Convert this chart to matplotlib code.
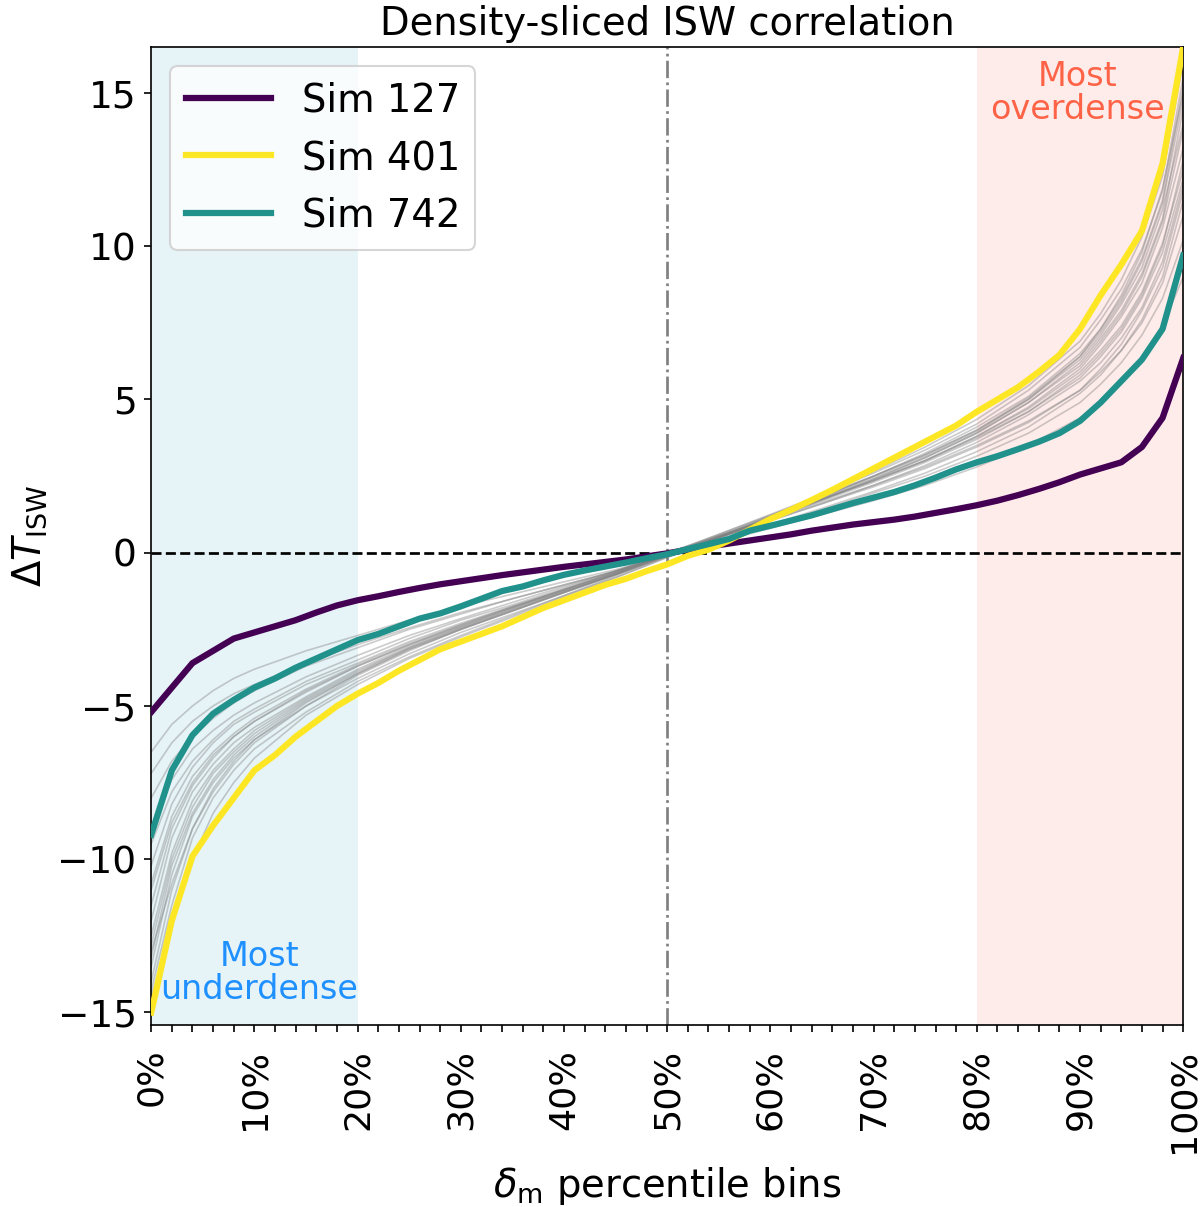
"""
Density-sliced ISW correlation: Delta T_ISW per delta_m percentile bin
for three highlighted simulations on top of the other sims in grey.
"""

import matplotlib
matplotlib.use("Agg")
import matplotlib.pyplot as plt
import numpy as np

# percentile bin positions (%) for the highlighted sims
PCT = list(range(0, 101, 2))

SIM_127 = [-5.2, -4.4, -3.6, -3.2, -2.8, -2.6, -2.4, -2.2, -1.95, -1.72,
           -1.55, -1.42, -1.28, -1.15, -1.03, -0.93, -0.83, -0.73, -0.64, -0.55,
           -0.46, -0.38, -0.30, -0.22, -0.12, -0.02, 0.10, 0.20, 0.30, 0.40,
           0.50, 0.60, 0.72, 0.82, 0.92, 1.00, 1.08, 1.18, 1.30, 1.42,
           1.55, 1.70, 1.88, 2.08, 2.30, 2.55, 2.75, 2.95, 3.45, 4.40, 6.35]

SIM_401 = [-15.0, -12.0, -9.9, -8.9, -8.0, -7.1, -6.6, -6.0, -5.5, -5.0,
           -4.6, -4.25, -3.85, -3.5, -3.15, -2.9, -2.65, -2.4, -2.1, -1.8,
           -1.55, -1.3, -1.05, -0.85, -0.6, -0.38, -0.1, 0.1, 0.4, 0.75,
           1.1, 1.4, 1.72, 2.05, 2.4, 2.75, 3.1, 3.45, 3.8, 4.15,
           4.6, 5.0, 5.4, 5.9, 6.45, 7.3, 8.4, 9.4, 10.5, 12.7, 16.5]

SIM_742 = [-9.2, -7.1, -5.95, -5.25, -4.8, -4.4, -4.1, -3.75, -3.45, -3.15,
           -2.85, -2.65, -2.4, -2.15, -1.98, -1.75, -1.5, -1.25, -1.1, -0.9,
           -0.72, -0.58, -0.45, -0.32, -0.18, -0.05, 0.12, 0.28, 0.45, 0.72,
           0.88, 1.05, 1.22, 1.42, 1.62, 1.8, 1.98, 2.2, 2.45, 2.72,
           2.95, 3.15, 3.38, 3.62, 3.9, 4.3, 4.9, 5.6, 6.3, 7.3, 9.7]

# the remaining sims (grey), read on a coarser grid
GREY_PCT = [0, 2, 4, 6, 8, 10, 15, 20, 25, 30, 35, 40, 45, 50, 55, 60, 65,
            70, 75, 80, 85, 90, 92, 94, 96, 98, 100]
GREY_SIMS = [
    [-13.5, -10.5, -8.6, -7.5, -6.7, -6.1, -5.0, -4.1, -3.3, -2.6, -2.0, -1.4, -0.75, -0.1, 0.5, 1.1, 1.75, 2.4, 3.1, 3.9, 4.9, 6.2, 7.0, 7.9, 9.1, 10.9, 14.5],
    [-11.0, -8.8, -7.5, -6.6, -6.0, -5.5, -4.5, -3.7, -3.0, -2.4, -1.8, -1.2, -0.65, -0.05, 0.5, 1.05, 1.6, 2.2, 2.85, 3.6, 4.5, 5.6, 6.2, 7.0, 8.0, 9.5, 12.0],
    [-14.3, -11.5, -9.3, -8.0, -7.1, -6.4, -5.2, -4.2, -3.4, -2.7, -2.05, -1.4, -0.8, -0.15, 0.45, 1.1, 1.8, 2.5, 3.25, 4.1, 5.1, 6.5, 7.3, 8.3, 9.6, 11.5, 15.2],
    [-9.5, -7.8, -6.8, -6.1, -5.5, -5.1, -4.2, -3.5, -2.8, -2.2, -1.7, -1.15, -0.6, 0.0, 0.55, 1.1, 1.65, 2.2, 2.8, 3.5, 4.3, 5.3, 5.9, 6.6, 7.5, 8.8, 11.0],
    [-12.8, -10.0, -8.3, -7.2, -6.5, -5.9, -4.8, -3.9, -3.1, -2.45, -1.85, -1.25, -0.7, -0.1, 0.5, 1.15, 1.8, 2.45, 3.15, 3.95, 5.0, 6.3, 7.1, 8.1, 9.3, 11.2, 14.0],
    [-6.5, -5.6, -5.0, -4.5, -4.1, -3.8, -3.2, -2.7, -2.2, -1.75, -1.35, -0.95, -0.55, -0.1, 0.35, 0.8, 1.25, 1.7, 2.2, 2.8, 3.5, 4.4, 4.9, 5.5, 6.3, 7.4, 9.0],
    [-13.0, -10.8, -9.0, -7.8, -6.9, -6.2, -5.0, -4.0, -3.2, -2.5, -1.9, -1.3, -0.7, -0.05, 0.6, 1.25, 1.9, 2.6, 3.35, 4.2, 5.3, 6.7, 7.6, 8.6, 9.9, 11.8, 15.5],
    [-10.2, -8.2, -7.0, -6.2, -5.6, -5.2, -4.3, -3.6, -2.9, -2.3, -1.75, -1.2, -0.65, -0.05, 0.55, 1.15, 1.75, 2.35, 3.0, 3.75, 4.6, 5.8, 6.5, 7.3, 8.4, 10.0, 12.8],
    [-14.0, -11.0, -9.0, -7.7, -6.8, -6.1, -4.9, -3.95, -3.15, -2.5, -1.9, -1.3, -0.72, -0.12, 0.48, 1.1, 1.75, 2.4, 3.1, 3.9, 4.9, 6.1, 6.9, 7.8, 9.0, 10.8, 13.8],
    [-8.0, -6.8, -6.0, -5.4, -4.9, -4.5, -3.7, -3.1, -2.5, -2.0, -1.5, -1.05, -0.6, -0.1, 0.4, 0.9, 1.4, 1.95, 2.5, 3.15, 3.9, 4.9, 5.5, 6.2, 7.1, 8.3, 10.2],
    [-12.0, -9.3, -7.8, -6.9, -6.2, -5.7, -4.7, -3.8, -3.05, -2.4, -1.8, -1.25, -0.68, -0.08, 0.52, 1.12, 1.72, 2.35, 3.0, 3.8, 4.75, 6.0, 6.8, 7.7, 8.8, 10.6, 13.2],
    [-14.5, -12.2, -10.0, -8.5, -7.5, -6.7, -5.3, -4.3, -3.45, -2.75, -2.1, -1.45, -0.82, -0.15, 0.5, 1.2, 1.9, 2.65, 3.45, 4.35, 5.45, 6.9, 7.8, 8.9, 10.3, 12.3, 16.0],
    [-10.8, -8.6, -7.3, -6.5, -5.9, -5.4, -4.45, -3.65, -2.95, -2.35, -1.78, -1.22, -0.66, -0.06, 0.54, 1.14, 1.74, 2.36, 3.02, 3.8, 4.7, 5.9, 6.6, 7.4, 8.5, 10.1, 12.5],
    [-11.5, -9.0, -7.6, -6.7, -6.0, -5.5, -4.55, -3.7, -3.0, -2.35, -1.75, -1.2, -0.62, -0.02, 0.6, 1.22, 1.85, 2.5, 3.2, 4.0, 5.0, 6.4, 7.2, 8.2, 9.5, 11.4, 14.8],
    [-13.2, -10.2, -8.5, -7.4, -6.6, -6.0, -4.85, -3.95, -3.15, -2.5, -1.9, -1.3, -0.72, -0.1, 0.5, 1.1, 1.7, 2.3, 2.95, 3.7, 4.6, 5.7, 6.4, 7.2, 8.3, 9.8, 12.2],
    [-7.2, -6.2, -5.5, -5.0, -4.6, -4.3, -3.6, -3.0, -2.45, -1.95, -1.5, -1.05, -0.6, -0.1, 0.4, 0.92, 1.45, 2.0, 2.6, 3.3, 4.1, 5.2, 5.8, 6.6, 7.6, 9.0, 11.5],
    [-12.5, -9.8, -8.1, -7.1, -6.4, -5.8, -4.75, -3.85, -3.1, -2.45, -1.85, -1.28, -0.7, -0.08, 0.55, 1.2, 1.85, 2.5, 3.2, 4.0, 5.05, 6.4, 7.3, 8.4, 9.8, 11.9, 15.0],
    [-9.0, -7.4, -6.4, -5.8, -5.3, -4.9, -4.05, -3.35, -2.7, -2.15, -1.62, -1.1, -0.6, -0.05, 0.5, 1.05, 1.6, 2.15, 2.75, 3.45, 4.25, 5.3, 6.0, 6.8, 7.9, 9.3, 11.8],
]

HIGHLIGHT = [("Sim 127", SIM_127), ("Sim 401", SIM_401), ("Sim 742", SIM_742)]
COLORS = ["#440154", "#fde725", "#21918c"]  # viridis ends + middle


def plot() -> None:
    fig = plt.figure(figsize=(8, 8.047), dpi=150)
    ax = fig.add_axes([0.126, 0.151, 0.860, 0.810])

    # extreme-density bands
    ax.axvspan(0, 20, color="lightblue", alpha=0.3, lw=0, zorder=0)
    ax.axvspan(80, 100, color="salmon", alpha=0.15, lw=0, zorder=0)

    for vals in GREY_SIMS:
        ax.plot(GREY_PCT, vals, color="grey", lw=0.8, alpha=0.4, zorder=1)

    for (label, vals), c in zip(HIGHLIGHT, COLORS):
        ax.plot(PCT, vals, color=c, lw=3, label=label, zorder=3)

    ax.axhline(0, color="black", ls="--", lw=1.3, zorder=2)
    ax.axvline(50, color="grey", ls="-.", lw=1.3, zorder=2)

    ax.text(10.5, -13.7, "Most\nunderdense", color="dodgerblue", fontsize=16,
            ha="center", va="center", linespacing=1.0)
    ax.text(89.8, 15.0, "Most\noverdense", color="tomato", fontsize=16,
            ha="center", va="center", linespacing=1.0)

    ax.set_xlim(0, 100)
    ax.set_ylim(-15.4, 16.5)
    ax.set_xticks(PCT)
    ax.set_xticklabels([f"{p}%" if p % 10 == 0 else "" for p in PCT],
                       rotation=90, fontsize=17.5)
    ax.tick_params(axis="x", pad=8)
    ax.set_yticks([-15, -10, -5, 0, 5, 10, 15])
    ax.tick_params(axis="y", labelsize=18)

    ax.set_xlabel(r"$\delta_{\rm m}$ percentile bins", fontsize=18.5, labelpad=6)
    ax.set_ylabel(r"$\Delta T_{\rm ISW}$", fontsize=18.5)
    ax.set_title("Density-sliced ISW correlation", fontsize=18.5)

    ax.legend(loc="upper left", fontsize=18.5, handlelength=2.2)

    fig.savefig("out.png", dpi=150)


if __name__ == "__main__":
    plot()
